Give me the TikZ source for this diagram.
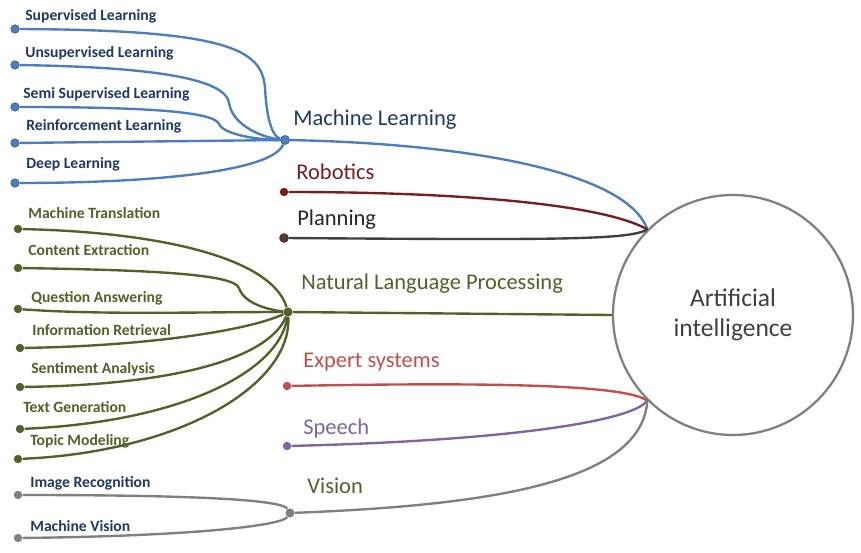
\documentclass[tikz,border=0pt]{standalone}
\usepackage{fontspec}
\setmainfont{Carlito}
\usetikzlibrary{positioning, calc}
\definecolor{mlblue}{RGB}{74,126,193}
\definecolor{navy}{RGB}{31,56,100}
\definecolor{robred}{RGB}{118,30,32}
\definecolor{plangray}{RGB}{64,64,64}
\definecolor{nlpgreen}{RGB}{79,98,40}
\definecolor{expred}{RGB}{192,80,77}
\definecolor{speechpurple}{RGB}{128,100,162}
\definecolor{visgray}{RGB}{128,128,128}
\tikzstyle{leafdot} = [circle, inner sep=0pt, minimum size=4.8pt]
\tikzstyle{hubdot} = [circle, inner sep=0pt, minimum size=5.2pt]
\tikzstyle{leaflabel} = [anchor=base west, inner sep=0pt, font=\fontsize{8.9}{10}\selectfont\bfseries]
\tikzstyle{mainlabel} = [anchor=base west, inner sep=0pt, font=\fontsize{12.8}{15}\selectfont]
\tikzstyle{link} = [line width=1.35pt]

\begin{document}
\begin{tikzpicture}[x=0.02cm, y=-0.02cm]
    \useasboundingbox (0,0) rectangle (861,553);

    % --- Artificial intelligence
    \node[draw=visgray, line width=1.3pt, circle, minimum size=4.8cm, fill=white, align=center,
          font=\fontsize{14.5}{17}\selectfont, text=plangray] (ai) at (733,315) {Artificial\\intelligence};

    % --- Machine learning
    \node[hubdot, fill=mlblue, draw=navy!80, line width=0.4pt] (ml) at (285,140) {};
    \node[mainlabel, text=navy] (mllab) at (293,126) {Machine Learning};
    \node[leafdot, fill=mlblue, draw=navy!80, line width=0.4pt] (sup) at (15,29) {};
    \node[leafdot, fill=mlblue, draw=navy!80, line width=0.4pt] (unsup) at (15,65) {};
    \node[leafdot, fill=mlblue, draw=navy!80, line width=0.4pt] (semi) at (15,107) {};
    \node[leafdot, fill=mlblue, draw=navy!80, line width=0.4pt] (reinf) at (15,143) {};
    \node[leafdot, fill=mlblue, draw=navy!80, line width=0.4pt] (deep) at (15,183) {};
    \node[leaflabel, text=navy] at (25,21) {Supervised Learning};
    \node[leaflabel, text=navy] at (25,58) {Unsupervised Learning};
    \node[leaflabel, text=navy] at (23,99) {Semi Supervised Learning};
    \node[leaflabel, text=navy] at (26,131) {Reinforcement Learning};
    \node[leaflabel, text=navy] at (26,169) {Deep Learning};
    \draw[link, mlblue] (sup) .. controls (230,30) and (262,50) .. (265,88) .. controls (267,125) and (274,137) .. (ml);
    \draw[link, mlblue] (unsup) .. controls (160,67) and (226,80) .. (229,103) .. controls (233,127) and (265,138) .. (ml);
    \draw[link, mlblue] (semi) .. controls (150,107) and (214,112) .. (219,124) .. controls (224,135) and (260,140) .. (ml);
    \draw[link, mlblue] (reinf) -- (ml);
    \draw[link, mlblue] (deep) .. controls (150,183) and (272,172) .. (ml);
    \draw[link, mlblue] (ml) .. controls (450,143) and (625,168) .. (ai.135);

    % --- Robotics, Planning
    \node[leafdot, fill=robred] (rob) at (284,192) {};
    \node[mainlabel, text=robred] at (296,180) {Robotics};
    \draw[link, robred] (rob) .. controls (450,192) and (600,203) .. (ai.135);
    \node[leafdot, fill=plangray, draw=robred, line width=0.6pt] (plan) at (284,238) {};
    \node[mainlabel, text=black!85] at (297,226) {Planning};
    \draw[link, plangray] (plan) .. controls (560,240) and (630,240) .. (ai.135);

    % --- Natural language processing
    \node[hubdot, fill=nlpgreen] (nlp) at (288,312) {};
    \node[mainlabel, text=nlpgreen] at (301,290) {Natural Language Processing};
    \node[leafdot, fill=nlpgreen] (mt) at (18,229) {};
    \node[leafdot, fill=nlpgreen] (ce) at (18,268) {};
    \node[leafdot, fill=nlpgreen] (qa) at (18,309) {};
    \node[leafdot, fill=nlpgreen] (ir) at (20,348) {};
    \node[leafdot, fill=nlpgreen] (sa) at (20,387) {};
    \node[leafdot, fill=nlpgreen] (tg) at (20,429) {};
    \node[leafdot, fill=nlpgreen] (tm) at (18,459) {};
    \node[leaflabel, text=nlpgreen] at (28,219) {Machine Translation};
    \node[leaflabel, text=nlpgreen] at (28,256) {Content Extraction};
    \node[leaflabel, text=nlpgreen] at (31,303) {Question Answering};
    \node[leaflabel, text=nlpgreen] at (32,336) {Information Retrieval};
    \node[leaflabel, text=nlpgreen] at (31,374) {Sentiment Analysis};
    \node[leaflabel, text=nlpgreen] at (23,412) {Text Generation};
    \node[leaflabel, text=nlpgreen] at (30,445) {Topic Modeling};
    \draw[link, nlpgreen] (mt) .. controls (160,232) and (272,258) .. (nlp);
    \draw[link, nlpgreen] (ce) .. controls (150,270) and (234,274) .. (239,288) .. controls (244,304) and (270,310) .. (nlp);
    \draw[link, nlpgreen] (qa) .. controls (100,315) and (200,312) .. (nlp);
    \draw[link, nlpgreen] (ir) .. controls (150,346) and (250,330) .. (nlp);
    \draw[link, nlpgreen] (sa) .. controls (170,385) and (268,360) .. (nlp);
    \draw[link, nlpgreen] (tg) .. controls (180,422) and (280,372) .. (nlp);
    \draw[link, nlpgreen] (tm) .. controls (180,452) and (292,385) .. (nlp);
    \draw[link, nlpgreen] (nlp) -- (ai.180);

    % --- Expert systems, Speech
    \node[leafdot, fill=expred] (exp) at (287,386) {};
    \node[mainlabel, text=expred] at (303,368) {Expert systems};
    \draw[link, expred] (exp) .. controls (500,382) and (625,385) .. (ai.225);
    \node[leafdot, fill=speechpurple] (sp) at (287,446) {};
    \node[mainlabel, text=speechpurple] at (303,434) {Speech};
    \draw[link, speechpurple] (sp) .. controls (500,441) and (632,422) .. (ai.225);

    % --- Vision
    \node[hubdot, fill=visgray] (vis) at (290,513) {};
    \node[mainlabel, text=nlpgreen] at (307,493) {Vision};
    \node[leafdot, fill=visgray] (imr) at (18,495) {};
    \node[leafdot, fill=visgray] (mv) at (18,538) {};
    \node[leaflabel, text=navy] at (30,487) {Image Recognition};
    \node[leaflabel, text=navy] at (30,531) {Machine Vision};
    \draw[link, visgray] (imr) .. controls (200,495) and (282,500) .. (vis);
    \draw[link, visgray] (mv) .. controls (200,536) and (282,525) .. (vis);
    \draw[link, visgray] (vis) .. controls (500,505) and (642,480) .. (ai.225);

\end{tikzpicture}
\end{document}
